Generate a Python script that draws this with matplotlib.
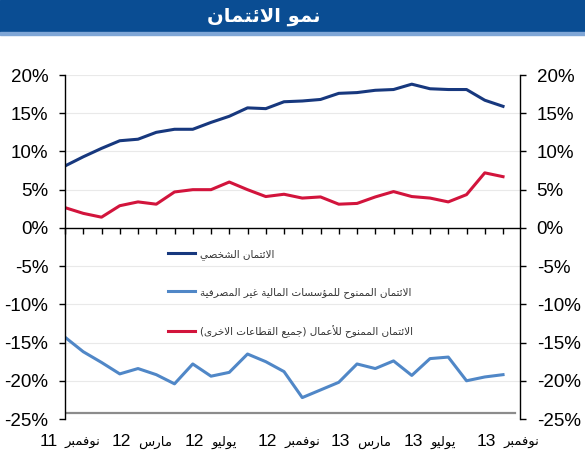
import re
import numpy as np
import matplotlib
matplotlib.use('Agg')
import matplotlib.pyplot as plt
import matplotlib.transforms as mtransforms
from matplotlib.patches import Rectangle

plt.rcParams['axes.unicode_minus'] = False
plt.rcParams['font.family'] = ['Liberation Sans', 'DejaVu Sans']

# monthly values, Nov 2011 .. Nov 2013 (%)
personal = [8.1, 9.3, 10.4, 11.4, 11.6, 12.5, 12.9, 12.9, 13.8, 14.6, 15.7, 15.6, 16.5,
            16.6, 16.8, 17.6, 17.7, 18.0, 18.1, 18.8, 18.2, 18.1, 18.1, 16.7, 15.9]
nonbank = [-14.3, -16.2, -17.6, -19.1, -18.4, -19.2, -20.4, -17.8, -19.4, -18.9, -16.5, -17.5, -18.8,
           -22.2, -21.2, -20.2, -17.8, -18.4, -17.4, -19.3, -17.1, -16.9, -20.0, -19.5, -19.2]
business = [2.65, 1.9, 1.4, 2.9, 3.4, 3.1, 4.7, 5.0, 5.0, 6.0, 5.0, 4.1, 4.4,
            3.9, 4.05, 3.1, 3.2, 4.05, 4.75, 4.1, 3.9, 3.4, 4.35, 7.2, 6.7]

month_names = ['نوفمبر', 'مارس', 'يوليو', 'نوفمبر', 'مارس', 'يوليو', 'نوفمبر']
month_years = ['11', '12', '12', '12', '13', '13', '13']
month_pos = [0, 4, 8, 12, 16, 20, 24]
y_ticks = [20, 15, 10, 5, 0, -5, -10, -15, -20, -25]
y_labels = ['20%', '15%', '10%', '5%', '0%', '-5%', '-10%', '-15%', '-20%', '-25%']

title = 'نمو الائتمان'
names = ['الائتمان الشخصي',
         'الائتمان الممنوح للمؤسسات المالية غير المصرفية',
         'الائتمان الممنوح للأعمال (جميع القطاعات الاخرى)']
colors = ['#17387e', '#5087c7', '#d2143c']

# --- tiny Arabic shaper: matplotlib draws glyphs left to right with no joining
ARABIC = {'آ': (0xFE81, 0), 'أ': (0xFE83, 0), 'ؤ': (0xFE85, 0), 'إ': (0xFE87, 0), 'ئ': (0xFE89, 1),
          'ا': (0xFE8D, 0), 'ب': (0xFE8F, 1), 'ة': (0xFE93, 0), 'ت': (0xFE95, 1), 'ث': (0xFE99, 1),
          'ج': (0xFE9D, 1), 'ح': (0xFEA1, 1), 'خ': (0xFEA5, 1), 'د': (0xFEA9, 0), 'ذ': (0xFEAB, 0),
          'ر': (0xFEAD, 0), 'ز': (0xFEAF, 0), 'س': (0xFEB1, 1), 'ش': (0xFEB5, 1), 'ص': (0xFEB9, 1),
          'ض': (0xFEBD, 1), 'ط': (0xFEC1, 1), 'ظ': (0xFEC5, 1), 'ع': (0xFEC9, 1), 'غ': (0xFECD, 1),
          'ف': (0xFED1, 1), 'ق': (0xFED5, 1), 'ك': (0xFED9, 1), 'ل': (0xFEDD, 1), 'م': (0xFEE1, 1),
          'ن': (0xFEE5, 1), 'ه': (0xFEE9, 1), 'و': (0xFEED, 0), 'ى': (0xFEEF, 0), 'ي': (0xFEF1, 1)}
LAMALEF = {'آ': 0xFEF5, 'أ': 0xFEF7, 'إ': 0xFEF9, 'ا': 0xFEFB}


def shape(text):
    out = []
    prev = False
    i = 0
    while i < len(text):
        c = text[i]
        if c not in ARABIC:
            out.append(c)
            prev = False
            i += 1
            continue
        if c == 'ل' and i + 1 < len(text) and text[i + 1] in LAMALEF:
            out.append(chr(LAMALEF[text[i + 1]] + int(prev)))
            prev = False
            i += 2
            continue
        base, dual = ARABIC[c]
        nxt = text[i + 1] if i + 1 < len(text) else ''
        joins_next = bool(dual) and nxt in ARABIC
        if prev and joins_next:
            form = 3
        elif prev:
            form = 1
        elif joins_next:
            form = 2
        else:
            form = 0
        out.append(chr(base + form))
        prev = bool(dual)
        i += 1
    runs = re.findall(r'\d+|\D', ''.join(out))
    vis = ''.join(reversed(runs))
    return vis.translate(str.maketrans('()', ')('))


x = np.arange(len(personal))

fig = plt.figure(figsize=(5.85, 4.5), dpi=100)
ax = fig.add_axes([65 / 585, 31 / 450, 455 / 585, 344 / 450])

# title bar
fig.patches.append(Rectangle((0, 1 - 32 / 450), 1, 32 / 450, transform=fig.transFigure,
                             color='#0a4d93', zorder=0))
fig.patches.append(Rectangle((0, 1 - 34.5 / 450), 1, 2.5 / 450, transform=fig.transFigure,
                             color='#7fa6d6', zorder=0))
fig.text(264 / 585, 1 - 16 / 450, shape(title), color='white', fontsize=14, fontweight='bold',
         ha='center', va='center', family=['DejaVu Sans'])

for yv in y_ticks:
    if yv != 0:
        ax.axhline(yv, color='#e9e9e9', lw=0.8, zorder=0)
ax.plot([0, 24.65], [-24.2, -24.2], color='#8c8c8c', lw=1.6, zorder=1)

ax.plot(x, personal, color=colors[0], lw=2.2, label=shape(names[0]), solid_joinstyle='round')
ax.plot(x, nonbank, color=colors[1], lw=2.2, label=shape(names[1]), solid_joinstyle='round')
ax.plot(x, business, color=colors[2], lw=2.2, label=shape(names[2]), solid_joinstyle='round')

ax.set_xlim(0, 24.93)
ax.set_ylim(-25, 20)
ax.set_yticks(y_ticks)
ax.set_yticklabels(y_labels)
ax.yaxis.set_ticks_position('both')
ax.tick_params(axis='y', direction='out', length=4, width=1, labelsize=13.5,
               labelright=True, pad=8)
ax.set_xticks(x)
ax.tick_params(axis='x', direction='out', length=4, width=1, labelbottom=False)
ax.spines['top'].set_visible(False)
ax.spines['bottom'].set_position(('data', 0))
for s in ['left', 'right', 'bottom']:
    ax.spines[s].set_linewidth(1.0)

# month labels: year (Latin digits) on the left, Arabic month name on the right
trans = mtransforms.blended_transform_factory(ax.transData, ax.transAxes)
for p, yr, mon in zip(month_pos, month_years, month_names):
    ax.annotate(yr, xy=(p, -0.064), xycoords=trans, xytext=(-5, 0), textcoords='offset points',
                ha='right', va='center', fontsize=12.5)
    ax.annotate(shape(mon), xy=(p, -0.064), xycoords=trans, xytext=(0, -1), textcoords='offset points',
                ha='left', va='center', fontsize=9.5, family=['DejaVu Sans'])

leg = ax.legend(loc='upper left', bbox_to_anchor=(168 / 585, 1 - 249 / 450),
                bbox_transform=fig.transFigure, frameon=False, fontsize=7.5,
                handlelength=2.6, handletextpad=0.5, labelspacing=2.6, borderpad=0,
                borderaxespad=0)
for t in leg.get_texts():
    t.set_color('#333333')
    t.set_family(['DejaVu Sans'])

fig.savefig('out.png', dpi=100)
